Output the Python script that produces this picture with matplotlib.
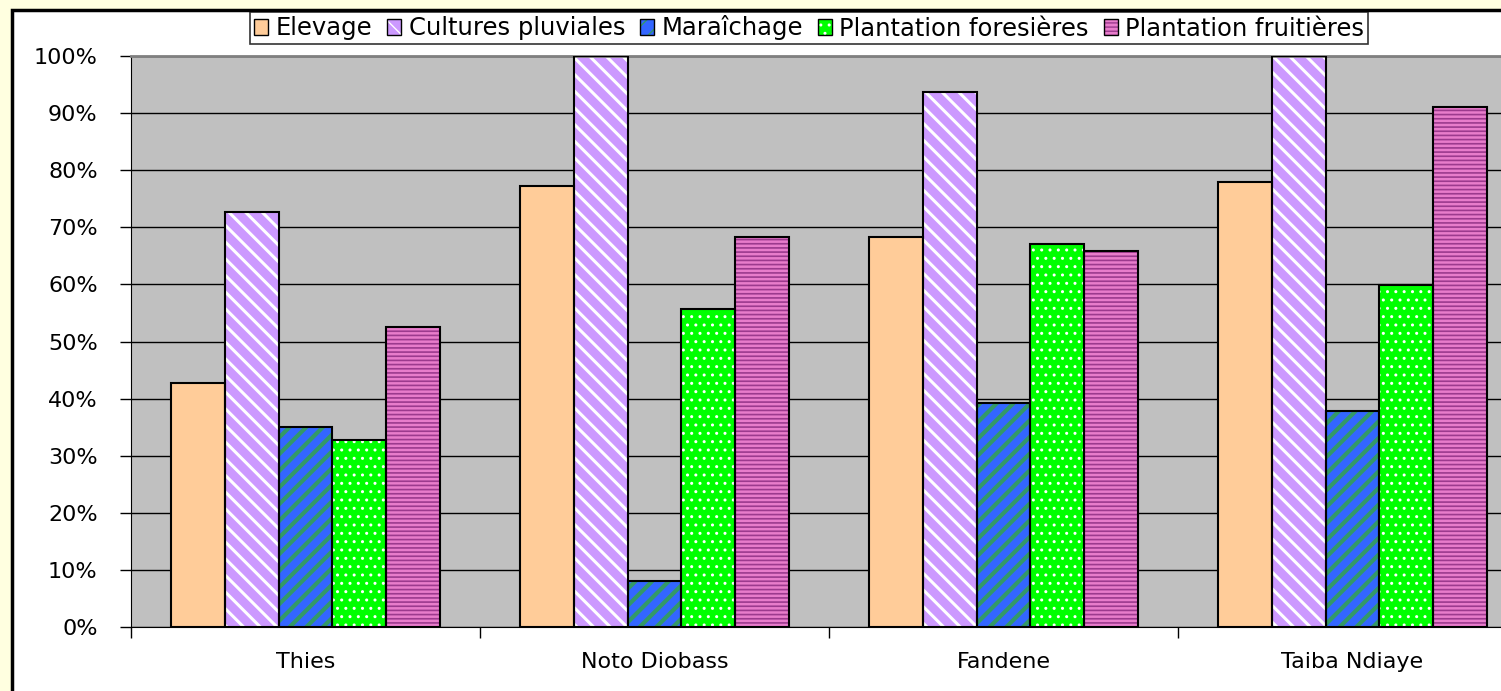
import matplotlib
matplotlib.use("Agg")
import matplotlib.pyplot as plt
import numpy as np
from matplotlib.patches import Rectangle
from matplotlib.ticker import FixedLocator, FuncFormatter
from matplotlib.legend_handler import HandlerTuple

categories = ["Thies", "Noto Diobass", "Fandene", "Taiba Ndiaye"]
series_names = ["Elevage", "Cultures pluviales", "Maraîchage",
                "Plantation foresières", "Plantation fruitières"]
elevage = [42.7, 77.2, 68.3, 77.9]
cultures_pluviales = [72.7, 100.0, 93.7, 100.0]
maraichage = [35.0, 8.1, 39.2, 37.8]
plantation_foresieres = [32.7, 55.7, 67.1, 59.9]
plantation_fruitieres = [52.5, 68.3, 65.8, 91.1]
series_values = [elevage, cultures_pluviales, maraichage,
                 plantation_foresieres, plantation_fruitieres]
y_ticks = [0, 10, 20, 30, 40, 50, 60, 70, 80, 90, 100]

face_colors = ["#FFCC99", "#CC99FF", "#3366FF", "#00FF00", "#E87CCB"]
hatch_colors = ["#FFCC99", "#FFFFFF", "#339966", "#FFFFFF", "#9C3A8E"]
hatches = [None, "\\\\", "//", "..", "----"]
hatch_lws = [1.0, 2.2, 3.0, 1.0, 1.2]

plt.rcParams["font.family"] = ["DejaVu Sans"]

W, H = 1501, 691
fig = plt.figure(figsize=(W / 100, H / 100), dpi=100)
fig.patch.set_facecolor("#FFFFE0")

# white panel with black border
panel = Rectangle((12 / W, -0.1), 1.2, (1 - 10 / H) + 0.1,
                  transform=fig.transFigure, facecolor="white",
                  edgecolor="black", linewidth=2.5, zorder=-5)
fig.patches.append(panel)

left, right_px, top, bottom = 131, 1527, 56, 627
ax = fig.add_axes([left / W, 1 - bottom / H, (right_px - left) / W, (bottom - top) / H])
ax.set_zorder(2)
ax.set_facecolor("#C0C0C0")

n_series = len(series_names)
group_w = 0.77
bar_w = group_w / n_series
x = np.arange(len(categories))
handles = []
for i, (name, vals) in enumerate(zip(series_names, series_values)):
    pos = x - group_w / 2 + bar_w * (i + 0.5)
    with plt.rc_context({"hatch.linewidth": hatch_lws[i]}):
        ax.bar(pos, vals, bar_w, color=face_colors[i], edgecolor=hatch_colors[i],
               hatch=hatches[i], linewidth=0, zorder=2)
        h1 = Rectangle((0, 0), 1, 1, facecolor=face_colors[i],
                       edgecolor=hatch_colors[i], linewidth=0, hatch=hatches[i])
    ax.bar(pos, vals, bar_w, fill=False, edgecolor="black", linewidth=1.5, zorder=3)
    h2 = Rectangle((0, 0), 1, 1, fill=False, edgecolor="black", linewidth=1.0)
    handles.append((h1, h2))

ax.set_xlim(-0.5, len(categories) - 0.5)
ax.set_ylim(0, 100)
ax.yaxis.set_major_locator(FixedLocator(y_ticks))
ax.yaxis.set_major_formatter(FuncFormatter(lambda v, p: f"{int(v)}%"))
ax.grid(axis="y", color="black", linewidth=1.0, zorder=1)
ax.set_axisbelow(True)

ax.set_xticks(np.arange(len(categories) + 1) - 0.5)
ax.set_xticklabels([])
ax.set_xticks(x, minor=True)
ax.set_xticklabels(categories, minor=True)
ax.tick_params(axis="x", which="major", length=8, width=1, color="black", direction="out")
ax.tick_params(axis="x", which="minor", length=0, pad=18, labelsize=16)
ax.tick_params(axis="y", length=8, width=1, color="black", pad=16, labelsize=16)

ax.spines["right"].set_visible(False)
ax.spines["top"].set_color("#808080")
ax.spines["top"].set_linewidth(2)
ax.spines["left"].set_color("black")
ax.spines["bottom"].set_color("black")

leg = fig.legend(handles, series_names, loc="center", ncol=5,
                 bbox_to_anchor=(809 / W, 1 - 28 / H), fontsize=17.5,
                 handler_map={tuple: HandlerTuple(ndivide=1)},
                 frameon=True, fancybox=False, edgecolor="black",
                 handlelength=0.6, handleheight=0.6, handletextpad=0.3,
                 columnspacing=0.6, borderpad=0.15, borderaxespad=0)
leg.get_frame().set_linewidth(1.2)
leg.set_zorder(5)

fig.savefig("out.png", dpi=100, facecolor=fig.get_facecolor())
